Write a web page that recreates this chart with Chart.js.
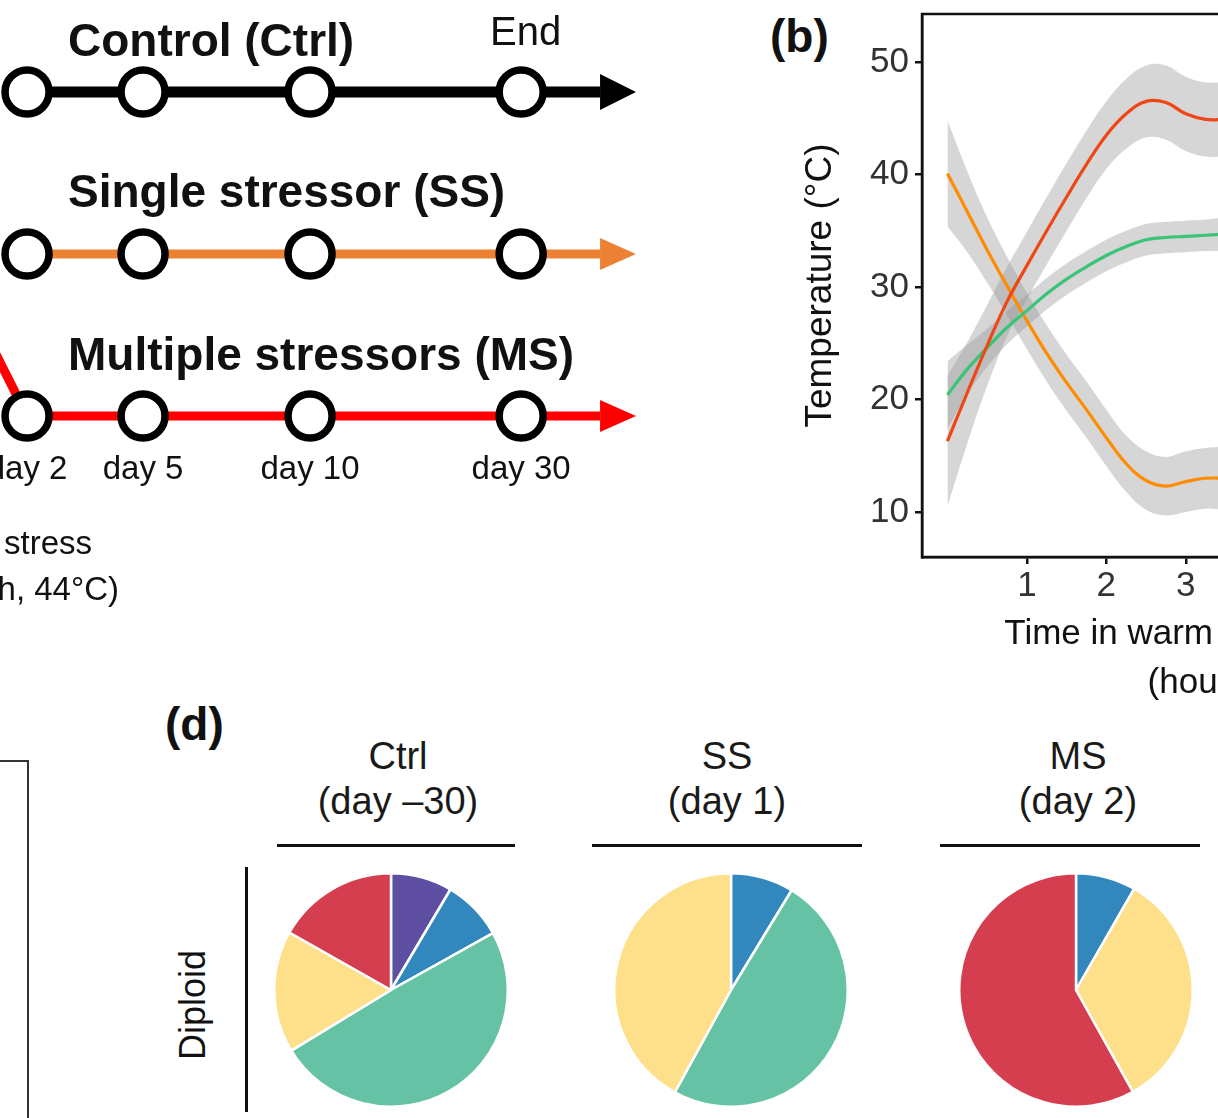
<!DOCTYPE html>
<html>
<head>
<meta charset="utf-8">
<title>Stressor timeline, temperature and composition</title>
<script src="https://cdn.jsdelivr.net/npm/chart.js@4.4.1/dist/chart.umd.min.js"></script>
<style>
  html, body { margin: 0; padding: 0; background: #fff; }
  body {
    width: 1218px; height: 1118px; overflow: hidden; position: relative;
    font-family: "Liberation Sans", Arial, sans-serif; color: #111;
  }
  .txt { position: absolute; white-space: nowrap; line-height: 1; }
  .bold { font-weight: bold; }
  .wrap { position: absolute; }
  .rule { position: absolute; background: #111; }
  .ctr { text-align: center; width: 300px; }
</style>
</head>
<body>

<!-- panel (a): schedule -->
<div class="wrap" style="left:-40px; top:0; width:700px; height:640px;"><canvas id="timelineChart"></canvas></div>
<div class="txt bold" style="left:68px; top:17px; font-size:46px;">Control (Ctrl)</div>
<div class="txt" style="left:490px; top:11px; font-size:40px;">End</div>
<div class="txt bold" style="left:68px; top:168px; font-size:46px;">Single stressor (SS)</div>
<div class="txt bold" style="left:68px; top:331px; font-size:46px;">Multiple stressors (MS)</div>
<div id="dayLabels"></div>
<div class="txt" style="right:1126px; top:526px; font-size:33px; text-align:right;">Heat stress</div>
<div class="txt" style="right:1099px; top:572px; font-size:33px; text-align:right;">(1 h, 44°C)</div>

<!-- panel (b): temperature -->
<div class="txt bold" style="left:770px; top:13px; font-size:46px;">(b)</div>
<div class="wrap" style="left:780px; top:-20px; width:726px; height:737px;"><canvas id="temperatureChart"></canvas></div>

<!-- panel (c): frame edge only -->
<div class="wrap" style="left:-10px; top:760px; width:37px; height:400px; border-top:2px solid #333; border-right:2px solid #333;"></div>

<!-- panel (d): composition -->
<div class="txt bold" style="left:165px; top:701px; font-size:46px;">(d)</div>
<div class="txt ctr" style="left:248px; top:737px; font-size:38px; color:#1a1a1a;">Ctrl</div>
<div class="txt ctr" style="left:248px; top:782px; font-size:38px; color:#1a1a1a;">(day –30)</div>
<div class="txt ctr" style="left:577px; top:737px; font-size:38px; color:#1a1a1a;">SS</div>
<div class="txt ctr" style="left:577px; top:782px; font-size:38px; color:#1a1a1a;">(day 1)</div>
<div class="txt ctr" style="left:928px; top:737px; font-size:38px; color:#1a1a1a;">MS</div>
<div class="txt ctr" style="left:928px; top:782px; font-size:38px; color:#1a1a1a;">(day 2)</div>
<div class="rule" style="left:277px; top:844px; width:238px; height:3px;"></div>
<div class="rule" style="left:592px; top:844px; width:270px; height:3px;"></div>
<div class="rule" style="left:940px; top:844px; width:260px; height:3px;"></div>
<div class="txt" style="left:193px; top:1005px; font-size:36px; transform:translate(-50%,-50%) rotate(-90deg);">Diploid</div>
<div class="rule" style="left:245px; top:867px; width:3px; height:245px;"></div>
<div class="wrap" style="left:273px; top:872px; width:236px; height:236px;"><canvas id="pieCtrl"></canvas></div>
<div class="wrap" style="left:613px; top:872px; width:236px; height:236px;"><canvas id="pieSS"></canvas></div>
<div class="wrap" style="left:958px; top:872px; width:236px; height:236px;"><canvas id="pieMS"></canvas></div>

<script>
// ---- panel (a) schedule ----
const stageLabels = ['day 2', 'day 5', 'day 10', 'day 30'];
const stageSlots = [0, 1, 2.44, 4.26];          // schematic spacing of sampling points
const groupNames = ['Control (Ctrl)', 'Single stressor (SS)', 'Multiple stressors (MS)'];
const groupRows = [3, 2, 1];
const groupColors = ['#000000', '#ed8133', '#ff0000'];
const arrowBaseSlot = 4.94;
const arrowTipSlot = 5.25;
const stressEvent = { slot: -0.45, row: 1.642 };  // where the MS line comes down from

// ---- panel (b) temperature ----
const hours = [0, 0.25, 0.5, 0.75, 1, 1.25, 1.5, 1.75, 2, 2.25, 2.5, 2.75, 3, 3.25, 3.5];
const tempRising = [16.3, 20.6, 24.8, 28.7, 31.9, 35.0, 38.0, 40.9, 43.5, 45.4, 46.5, 46.4, 45.4, 44.9, 44.9];
const ciRising = [5.8, 4.5, 3.6, 3.1, 3.0, 3.0, 3.0, 3.0, 3.0, 3.1, 3.2, 3.3, 3.3, 3.3, 3.3];
const tempMiddle = [20.4, 22.7, 24.6, 26.4, 27.9, 29.4, 30.7, 31.8, 32.8, 33.6, 34.2, 34.4, 34.5, 34.6, 34.7];
const ciMiddle = [3.0, 2.2, 1.7, 1.5, 1.4, 1.4, 1.4, 1.4, 1.4, 1.4, 1.4, 1.4, 1.4, 1.4, 1.5];
const tempFalling = [40.1, 36.7, 33.3, 30.1, 27.0, 24.1, 21.5, 19.1, 16.6, 14.3, 12.8, 12.3, 12.7, 13.0, 13.0];
const ciFalling = [4.7, 3.6, 2.9, 2.6, 2.5, 2.5, 2.5, 2.5, 2.5, 2.5, 2.6, 2.6, 2.7, 2.7, 2.8];
const hourTicks = [1, 2, 3, 4, 5, 6];
const tempTicks = [10, 20, 30, 40, 50];

// ---- panel (d) composition (% of cells) ----
const cellGroups = ['Group 1', 'Group 2', 'Group 3', 'Group 4', 'Group 5'];
const groupPalette = ['#5e4fa2', '#3288bd', '#66c2a5', '#fee08b', '#d53e4f'];
const ctrlShares = [8.5, 8.4, 49.4, 16.9, 16.8];
const ssShares = [0, 8.7, 49.3, 42.0, 0];
const msShares = [0, 8.3, 0, 33.6, 58.1];

Chart.defaults.font.family = '"Liberation Sans", Arial, sans-serif';
Chart.defaults.animation = false;
Chart.defaults.events = [];
Chart.defaults.plugins.legend.display = false;
Chart.defaults.plugins.tooltip.enabled = false;

// Day labels under the MS row
const dayBox = document.getElementById('dayLabels');

// Timeline ----------------------------------------------------
const arrowHeads = {
    id: 'arrowHeads',
    afterDatasetsDraw(chart) {
        const { ctx, scales: { x, y } } = chart;
        const half = [18, 16, 16];
        groupRows.forEach((row, i) => {
            const bx = x.getPixelForValue(arrowBaseSlot);
            const tx = x.getPixelForValue(arrowTipSlot);
            const py = y.getPixelForValue(row);
            ctx.save();
            ctx.fillStyle = groupColors[i];
            ctx.beginPath();
            ctx.moveTo(bx, py - half[i]);
            ctx.lineTo(tx, py);
            ctx.lineTo(bx, py + half[i]);
            ctx.closePath();
            ctx.fill();
            ctx.restore();
        });
    }
};

const rowLines = groupRows.map((row, i) => ({
    type: 'line',
    label: groupNames[i],
    data: [{ x: stageSlots[0], y: row }, { x: arrowBaseSlot, y: row }],
    borderColor: groupColors[i],
    borderWidth: i === 0 ? 11 : 9,
    pointRadius: 0,
    order: 1
}));
rowLines.push({
    type: 'line',
    label: 'stress',
    data: [{ x: stressEvent.slot, y: stressEvent.row }, { x: stageSlots[0], y: groupRows[2] }],
    borderColor: groupColors[2],
    borderWidth: 9,
    pointRadius: 0,
    order: 1
});

const nodes = [];
groupRows.forEach(row => stageSlots.forEach(s => nodes.push({ x: s, y: row })));

const timeline = new Chart(document.getElementById('timelineChart'), {
    type: 'scatter',
    data: {
        datasets: [...rowLines, {
            type: 'scatter',
            label: 'sampling',
            data: nodes,
            pointRadius: 22,
            pointBorderWidth: 7.5,
            pointBackgroundColor: '#ffffff',
            pointBorderColor: '#000000',
            order: 0
        }]
    },
    options: {
        responsive: true,
        maintainAspectRatio: false,
        layout: { padding: 0, autoPadding: false },
        scales: {
            x: { type: 'linear', display: false, min: -0.578, max: 5.457 },
            y: { type: 'linear', display: false, min: -0.383, max: 3.568 }
        }
    },
    plugins: [arrowHeads]
});

// place the day labels under the nodes using the scale
stageLabels.forEach((lab, i) => {
    const d = document.createElement('div');
    d.className = 'txt ctr';
    d.style.fontSize = '33px';
    d.style.top = '451px';
    d.style.left = (timeline.scales.x.getPixelForValue(stageSlots[i]) - 40 - 150) + 'px';
    d.textContent = lab;
    dayBox.appendChild(d);
});

// Temperature --------------------------------------------------
const toXY = (vals, off) => hours.map((h, i) => ({ x: h, y: vals[i] + (off ? off[i] : 0) }));
const neg = arr => arr.map(v => -v);
const bandFill = 'rgba(153, 153, 153, 0.4)';

function band(vals, ci, label) {
    return [
        { label: label + ' low', data: toXY(vals, neg(ci)), borderWidth: 0, pointRadius: 0, fill: false, tension: 0.4, order: 2 },
        { label: label + ' high', data: toXY(vals, ci), borderWidth: 0, pointRadius: 0, fill: '-1', backgroundColor: bandFill, tension: 0.4, order: 2 }
    ];
}
function line(vals, color, label) {
    return { label, data: toXY(vals), borderColor: color, borderWidth: 3.2, pointRadius: 0, fill: false, tension: 0.4, order: 1 };
}

const frame = {
    id: 'frame',
    afterDatasetsDraw(chart) {
        const { ctx, chartArea: a } = chart;
        ctx.save();
        ctx.strokeStyle = '#111';
        ctx.lineWidth = 2.5;
        ctx.strokeRect(a.left, a.top, a.right - a.left, a.bottom - a.top);
        ctx.restore();
    }
};

new Chart(document.getElementById('temperatureChart'), {
    type: 'line',
    data: {
        datasets: [
            ...band(tempRising, ciRising, 'Rising'),
            ...band(tempMiddle, ciMiddle, 'Middle'),
            ...band(tempFalling, ciFalling, 'Falling'),
            line(tempRising, '#ee4614', 'Rising'),
            line(tempMiddle, '#39c477', 'Middle'),
            line(tempFalling, '#ff8c00', 'Falling')
        ]
    },
    options: {
        responsive: true,
        maintainAspectRatio: false,
        layout: { padding: { top: 34, right: 22, left: 0, bottom: 0 } },
        scales: {
            x: {
                type: 'linear',
                min: -0.32,
                max: 6.754,
                afterBuildTicks: s => { s.ticks = hourTicks.map(v => ({ value: v })); },
                afterFit: s => { s.height = 160; },
                ticks: { font: { size: 35 }, color: '#333', padding: 1, maxRotation: 0 },
                grid: { drawOnChartArea: false, tickLength: 7, lineWidth: 2.5, color: '#111' },
                border: { display: true, color: '#111', width: 2.5 },
                title: {
                    display: true,
                    text: ['Time in warm water tanks', '(hours)'],
                    font: { size: 35, lineHeight: 1.4 },
                    color: '#111',
                    padding: { top: 0, bottom: 9 }
                }
            },
            y: {
                type: 'linear',
                min: 6,
                max: 54.27,
                afterBuildTicks: s => { s.ticks = tempTicks.map(v => ({ value: v })); },
                afterFit: s => { s.width = 142; },
                ticks: { font: { size: 35 }, color: '#333', padding: 6 },
                grid: { drawOnChartArea: false, tickLength: 7, lineWidth: 2.5, color: '#111' },
                border: { display: true, color: '#111', width: 2.5 },
                title: {
                    display: true,
                    text: 'Temperature (°C)',
                    font: { size: 37 },
                    color: '#111',
                    padding: { top: 19, bottom: 0 }
                }
            }
        }
    },
    plugins: [frame]
});

// Composition pies --------------------------------------------
function pie(id, shares) {
    const keep = shares.map((v, i) => i).filter(i => shares[i] > 0);
    new Chart(document.getElementById(id), {
        type: 'pie',
        data: {
            labels: keep.map(i => cellGroups[i]),
            datasets: [{
                data: keep.map(i => shares[i]),
                backgroundColor: keep.map(i => groupPalette[i]),
                borderColor: '#ffffff',
                borderWidth: 2.5
            }]
        },
        options: {
            responsive: true,
            maintainAspectRatio: false,
            layout: { padding: 0 }
        }
    });
}
pie('pieCtrl', ctrlShares);
pie('pieSS', ssShares);
pie('pieMS', msShares);
</script>
</body>
</html>
